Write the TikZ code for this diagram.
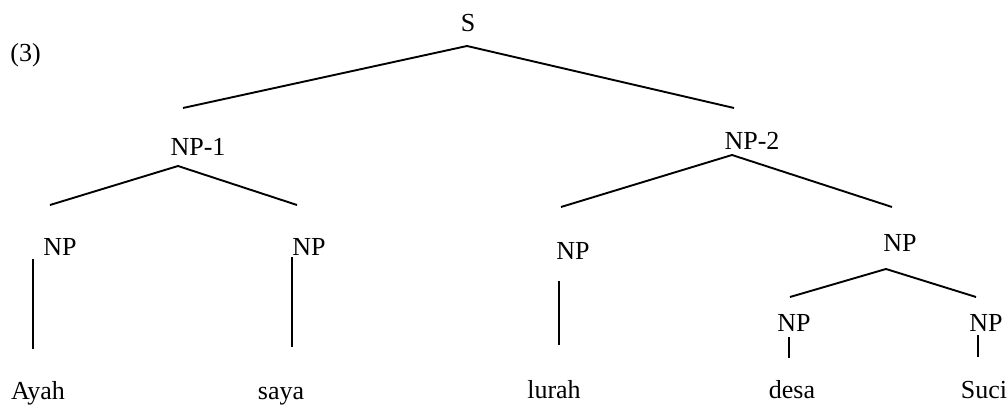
\documentclass[tikz,border=0pt]{standalone}
\usepackage{fontspec}
\setmainfont{Liberation Serif}
\begin{document}
\begin{tikzpicture}[x=0.5pt,y=-0.5pt,
  lbl/.style={anchor=base,inner sep=0pt,font=\fontsize{13}{15}\selectfont},
  branch/.style={line width=0.95pt,line cap=butt}]
\useasboundingbox (0,0) rectangle (1008,405);
% labels
\node[lbl,anchor=base west] (ex) at (10,62) {(3)};
\node[lbl] (S) at (468,32) {S};
\node[lbl] (NP1) at (198,156) {NP-1};
\node[lbl] (NP2) at (752,150) {NP-2};
\node[lbl] (NPa) at (60,256) {NP};
\node[lbl] (NPb) at (309,256) {NP};
\node[lbl] (NPc) at (573,260) {NP};
\node[lbl] (NPd) at (900,252) {NP};
\node[lbl] (NPe) at (794,332) {NP};
\node[lbl] (NPf) at (986,332) {NP};
\node[lbl] (wa) at (38,400) {Ayah};
\node[lbl] (wb) at (281,400) {saya};
\node[lbl] (wc) at (554,399) {lurah};
\node[lbl] (we) at (792,399) {desa};
\node[lbl] (wf) at (984,399) {Suci};
% branch points
\coordinate (S-top) at (467,46);
\coordinate (S-l) at (183,108);
\coordinate (S-r) at (734,108);
\coordinate (NP1-top) at (178,166);
\coordinate (NP1-l) at (50,205);
\coordinate (NP1-r) at (297,205);
\coordinate (NP2-top) at (732,155);
\coordinate (NP2-l) at (561,207);
\coordinate (NP2-r) at (892,207);
\coordinate (NPd-top) at (886,269);
\coordinate (NPd-l) at (790,297);
\coordinate (NPd-r) at (976,297);
\coordinate (a-t) at (33,259);
\coordinate (a-b) at (33,349);
\coordinate (b-t) at (292,257);
\coordinate (b-b) at (292,347);
\coordinate (c-t) at (559,281);
\coordinate (c-b) at (559,345);
\coordinate (e-t) at (789,337);
\coordinate (e-b) at (789,358);
\coordinate (f-t) at (978,335);
\coordinate (f-b) at (978,357);
% connectors
\draw[branch] (S-l) -- (S-top) -- (S-r);
\draw[branch] (NP1-l) -- (NP1-top) -- (NP1-r);
\draw[branch] (NP2-l) -- (NP2-top) -- (NP2-r);
\draw[branch] (NPd-l) -- (NPd-top) -- (NPd-r);
\draw[branch] (a-t) -- (a-b);
\draw[branch] (b-t) -- (b-b);
\draw[branch] (c-t) -- (c-b);
\draw[branch] (e-t) -- (e-b);
\draw[branch] (f-t) -- (f-b);
\end{tikzpicture}
\end{document}
